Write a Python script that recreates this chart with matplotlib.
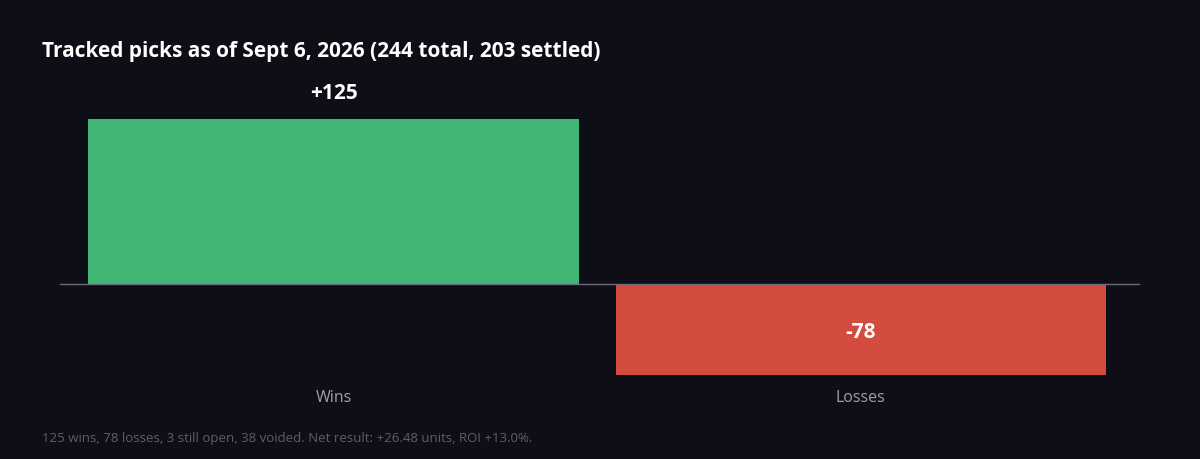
import matplotlib
matplotlib.use("Agg")
import matplotlib.pyplot as plt

categories = ["Wins", "Losses"]
values = [125, -78]
labels = ["+125", "-78"]
colors = ["#41b573", "#d44b3f"]

plt.rcParams['font.family'] = ['Open Sans', 'DejaVu Sans']
bg = "#0e0e16"
fig = plt.figure(figsize=(12, 4.6), dpi=100, facecolor=bg)
ax = fig.add_axes([0.05, 1 - 376/460, 0.90, 296/460])
ax.set_facecolor(bg)
x = list(range(len(categories)))
ax.bar(x, values, width=0.93, color=colors, zorder=2)
ax.axhline(0, color="#6a6a78", lw=1, zorder=3)
ax.set_xlim(-0.519, 1.530)
ax.set_ylim(-69, 155)
for xi, v, l in zip(x, values, labels):
    if v >= 0:
        ax.text(xi, v + 12, l, ha="center", va="bottom", color="white", fontsize=15, fontweight="bold")
    else:
        ax.text(xi, -36, l, ha="center", va="center", color="white", fontsize=15, fontweight="bold")
for s in ax.spines.values():
    s.set_visible(False)
ax.set_yticks([])
ax.set_xticks(x)
ax.set_xticklabels(categories, color="#a0a0aa", fontsize=11.5)
ax.tick_params(axis="x", length=0, pad=10)
fig.text(0.035, 1 - 52/460, "Tracked picks as of Sept 6, 2026 (244 total, 203 settled)",
         color="white", fontsize=15, fontweight="bold", va="center")
fig.text(0.035, 1 - 439/460, "125 wins, 78 losses, 3 still open, 38 voided. Net result: +26.48 units, ROI +13.0%.",
         color="#5e5e6a", fontsize=9.5, va="center")
fig.savefig("out.png", facecolor=bg)
